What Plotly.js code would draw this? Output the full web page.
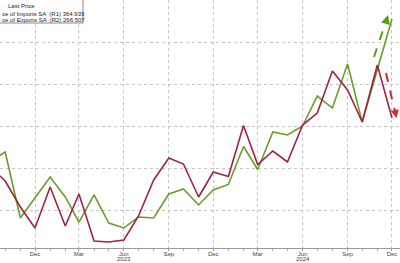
<!DOCTYPE html>
<html>
<head>
<meta charset="utf-8">
<script src="https://cdn.plot.ly/plotly-3.0.1.min.js"></script>
<style>
html,body{margin:0;padding:0;background:#fff;}
#chart{width:400px;height:263px;}
</style>
</head>
<body>
<div id="chart"></div>
<script>
// Monthly observations (first of month)
const months = [
  "2022-09-01","2022-10-01","2022-11-01","2022-12-01",
  "2023-01-01","2023-02-01","2023-03-01","2023-04-01","2023-05-01","2023-06-01",
  "2023-07-01","2023-08-01","2023-09-01","2023-10-01","2023-11-01","2023-12-01",
  "2024-01-01","2024-02-01","2024-03-01","2024-04-01","2024-05-01","2024-06-01",
  "2024-07-01","2024-08-01","2024-09-01","2024-10-01","2024-11-01","2024-12-01"
];
// Price of Imports SA (R1) - green
const importsR1 = [
  348.03, 349.11, 341.25, 343.63,
  346.13, 343.75, 340.77, 343.99, 340.65, 340.06,
  341.37, 341.25, 344.11, 344.70, 342.80, 344.58,
  345.24, 349.76, 347.02, 351.49, 351.13, 352.20,
  355.77, 354.34, 359.58, 352.68, 358.87, 364.939
];
// Price of Exports SA (R2) - red
const exportsR2 = [
  260.67, 259.01, 255.91, 253.41,
  258.29, 253.65, 257.46, 251.86, 251.75, 251.98,
  254.84, 259.13, 261.75, 261.03, 257.10, 260.08,
  259.54, 265.61, 260.97, 262.58, 261.27, 265.67,
  267.10, 272.10, 269.84, 266.03, 272.82, 266.507
];
const seriesNames = ["ce of Imports SA", "ce of Exports SA"];
const axisTags = ["(R1)", "(R2)"];
const tickDates = ["2022-12-01","2023-03-01","2023-06-01","2023-09-01","2023-12-01",
                   "2024-03-01","2024-06-01","2024-09-01","2024-12-01"];
const tickLabels = ["Dec","Mar","Jun","Sep","Dec","Mar","Jun","Sep","Dec"];
const yearDates = ["2023-06-01", "2024-06-01"];
const yearLabels = ["2023", "2024"];

const GREEN = "#6e9a2c";
const RED = "#9c2446";

const traces = [
  {x: months, y: importsR1, type: "scatter", mode: "lines", name: seriesNames[0],
   line: {color: GREEN, width: 1.6}, yaxis: "y", hoverinfo: "skip"},
  {x: months, y: exportsR2, type: "scatter", mode: "lines", name: seriesNames[1],
   line: {color: RED, width: 1.6}, yaxis: "y2", hoverinfo: "skip"}
];

const PX = 8.4;   // pixels per unit (5 units per gridline)
const H = 248;
const r1lo = 337.677, r2lo = 251.031;

const lastImp = importsR1[importsR1.length - 1].toFixed(3);
const lastExp = exportsR2[exportsR2.length - 1].toFixed(3);

function px(x){ return x / 400; }
function py(y){ return 1 - y / H; }

const legendFont = {family: "Liberation Sans, Arial, sans-serif", size: 6, color: "#222"};
const axisFont = {family: "Liberation Sans, Arial, sans-serif", size: 6, color: "#444"};

const annotations = [
  {xref: "paper", yref: "paper", x: px(21), y: py(6), text: "Last Price", showarrow: false,
   xanchor: "center", yanchor: "middle", font: legendFont},
  {xref: "paper", yref: "paper", x: px(0), y: py(13.5),
   text: seriesNames[0] + "  " + axisTags[0] + " " + lastImp, showarrow: false,
   xanchor: "left", yanchor: "middle", font: legendFont},
  {xref: "paper", yref: "paper", x: px(0), y: py(20),
   text: seriesNames[1] + "  " + axisTags[1] + " " + lastExp, showarrow: false,
   xanchor: "left", yanchor: "middle", font: legendFont},
  // arrow heads
  {xref: "paper", yref: "paper", x: px(388), y: py(15), ax: -2, ay: 7, text: "",
   showarrow: true, arrowhead: 2, arrowsize: 0.9, arrowwidth: 2, arrowcolor: "#5c9e1c"},
  {xref: "paper", yref: "paper", x: px(396.5), y: py(118), ax: -1.5, ay: -7, text: "",
   showarrow: true, arrowhead: 2, arrowsize: 0.8, arrowwidth: 2, arrowcolor: "#d42a2a"}
];
yearDates.forEach((d, i) => annotations.push({
  xref: "x", yref: "paper", x: d, y: py(259), text: yearLabels[i], showarrow: false,
  xanchor: "center", yanchor: "middle", font: axisFont
}));

const layout = {
  width: 400, height: 263,
  margin: {l: 0, r: 0, t: 0, b: 15, pad: 0},
  paper_bgcolor: "#fff", plot_bgcolor: "#fff",
  showlegend: false,
  xaxis: {
    type: "date",
    range: ["2022-09-20 08:00", "2024-12-17 10:00"],
    tickvals: tickDates, ticktext: tickLabels,
    tickfont: axisFont, ticklabelstandoff: -2,
    ticks: "outside", ticklen: 2, tickcolor: "#999", tickwidth: 1,
    showgrid: true, gridcolor: "#c4c4c4", griddash: "dot", gridwidth: 1,
    showline: true, linecolor: "#9a9a9a", linewidth: 1,
    minor: {dtick: "M1", tick0: "2022-09-01", ticks: "outside", ticklen: 2, tickcolor: "#aaa", showgrid: false},
    zeroline: false, fixedrange: true
  },
  yaxis: {
    range: [r1lo, r1lo + H / PX],
    tick0: 342.201, dtick: 5,
    showgrid: true, gridcolor: "#c4c4c4", griddash: "dot", gridwidth: 1,
    showticklabels: false, ticks: "", zeroline: false, showline: false, fixedrange: true
  },
  yaxis2: {
    range: [r2lo, r2lo + H / PX],
    overlaying: "y", side: "right",
    showgrid: false, showticklabels: false, ticks: "", zeroline: false, showline: false, fixedrange: true
  },
  shapes: [
    // legend box
    {type: "rect", xref: "paper", yref: "paper", x0: -0.01, x1: px(83), y0: py(23), y1: 1.01,
     line: {color: "#8a8a8a", width: 1}, fillcolor: "#fff", layer: "above"},
    // green dashed arrow shaft
    {type: "line", xref: "paper", yref: "paper", x0: px(374), y0: py(57), x1: px(386.5), y1: py(20),
     line: {color: "#5c9e1c", width: 2, dash: "dash"}, layer: "above"},
    // red dashed arrow shaft
    {type: "line", xref: "paper", yref: "paper", x0: px(386), y0: py(73), x1: px(395), y1: py(112),
     line: {color: "#d42a2a", width: 2, dash: "dash"}, layer: "above"}
  ],
  annotations: annotations
};

Plotly.newPlot("chart", traces, layout, {staticPlot: true, displayModeBar: false});
</script>
</body>
</html>
